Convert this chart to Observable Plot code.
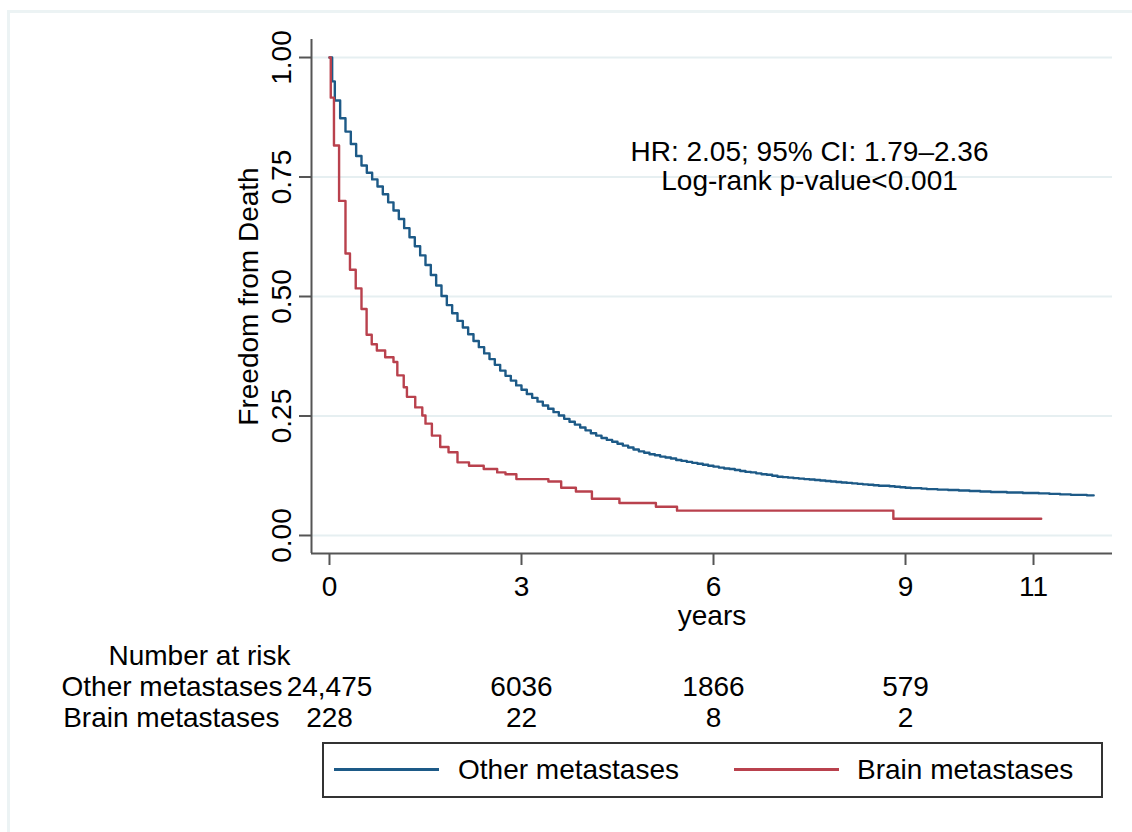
<!DOCTYPE html>
<html>
<head>
<meta charset="utf-8">
<script src="https://cdn.jsdelivr.net/npm/d3@7"></script>
<script src="https://cdn.jsdelivr.net/npm/@observablehq/plot@0.6"></script>
<style>
  html, body { margin: 0; padding: 0; background: #fff; }
  #page { position: relative; width: 1132px; height: 832px; overflow: hidden; background: #fff;
          font-family: "Liberation Sans", Arial, sans-serif; color: #000; }
  #frame { position: absolute; left: 7px; top: 10px; width: 1140px; height: 840px;
           border-top: 3px solid #ecf3f4; border-left: 3px solid #ecf3f4; box-sizing: border-box; }
  #main { position: absolute; left: 0; top: 0; }
  #risk { position: absolute; left: 0; top: 640px; }
  #legend { position: absolute; left: 322px; top: 742px; width: 781px; height: 56px;
            border: 2px solid #333; box-sizing: border-box; background: #fff; }
  #legend .sw { position: absolute; top: 24px; width: 105px; height: 0; border-top: 3px solid; }
  #legend .lb { position: absolute; top: 0; line-height: 52px; font-size: 28px; white-space: nowrap; }
</style>
</head>
<body>
<div id="page">
  <div id="frame"></div>
  <div id="main"></div>
  <div id="risk"></div>
  <div id="legend"></div>
</div>
<script>
// ---------------- data ----------------
const seriesNames = ["Other metastases", "Brain metastases"];
const seriesColors = ["#1d5a87", "#b9414d"];

// Other metastases: Kaplan–Meier survival read per month (months 0, 0.5, 1 … 143)
const otherMonths = [0, 0.5, ...d3.range(1, 144)];
const otherSurv = [
  1.000, 0.950,
  0.910, 0.873, 0.845, 0.819, 0.794, 0.774, 0.759, 0.745, 0.730, 0.714, 0.697, 0.680,
  0.662, 0.643, 0.624, 0.605, 0.586, 0.566, 0.545, 0.523, 0.501, 0.482, 0.465, 0.449,
  0.435, 0.421, 0.407, 0.394, 0.381, 0.369, 0.357, 0.345, 0.334, 0.324, 0.314, 0.305,
  0.296, 0.288, 0.280, 0.272, 0.265, 0.258, 0.251, 0.244, 0.238, 0.232, 0.226, 0.220,
  0.214, 0.209, 0.204, 0.200, 0.196, 0.192, 0.188, 0.184, 0.180, 0.176, 0.173, 0.170,
  0.168, 0.165, 0.163, 0.161, 0.158, 0.156, 0.154, 0.152, 0.150, 0.148, 0.146, 0.144,
  0.142, 0.140, 0.139, 0.137, 0.135, 0.133, 0.132, 0.130, 0.128, 0.127, 0.125, 0.123,
  0.122, 0.121, 0.120, 0.119, 0.118, 0.117, 0.116, 0.115, 0.114, 0.113, 0.112, 0.111,
  0.110, 0.109, 0.108, 0.107, 0.106, 0.105, 0.104, 0.104, 0.103, 0.102, 0.101, 0.100,
  0.099, 0.099, 0.098, 0.097, 0.097, 0.096, 0.096, 0.095, 0.095, 0.094, 0.094, 0.093,
  0.093, 0.092, 0.092, 0.091, 0.091, 0.091, 0.090, 0.090, 0.090, 0.089, 0.089, 0.089,
  0.088, 0.088, 0.087, 0.087, 0.086, 0.086, 0.085, 0.085, 0.085, 0.084, 0.084
];
const otherLastYear = 11.94;

// Brain metastases: step times (years) and survival
const brainTimes = [0, 0.02, 0.07, 0.15, 0.25, 0.32, 0.41, 0.50, 0.58, 0.66, 0.74, 0.87, 1.00,
  1.06, 1.16, 1.21, 1.34, 1.45, 1.50, 1.60, 1.73, 1.86, 2.00, 2.18, 2.41, 2.62, 2.75, 2.92,
  3.42, 3.62, 3.85, 4.10, 4.53, 5.10, 5.43, 8.81, 11.12];
const brainSurv = [1.000, 0.916, 0.816, 0.700, 0.590, 0.556, 0.517, 0.474, 0.420, 0.400, 0.387, 0.373, 0.363,
  0.335, 0.310, 0.290, 0.268, 0.251, 0.234, 0.209, 0.185, 0.174, 0.153, 0.146, 0.139, 0.132, 0.128, 0.118,
  0.113, 0.100, 0.092, 0.077, 0.068, 0.060, 0.052, 0.035, 0.035];

const xTicks = [0, 3, 6, 9, 11];
const yTicks = [0, 0.25, 0.5, 0.75, 1];
const xLabel = "years";
const yLabel = "Freedom from Death";
const annotation = ["HR: 2.05; 95% CI: 1.79–2.36", "Log-rank p-value<0.001"];

const riskTitle = "Number at risk";
const riskTimes = [0, 3, 6, 9];
const riskOther = ["24,475", "6036", "1866", "579"];
const riskBrain = ["228", "22", "8", "2"];

// ---------------- build ----------------
const FONT = '"Liberation Sans", Arial, sans-serif';
const FS = 28;
const AXIS = "#555";
const xDomain = [-0.281, 12.234];
const yDomain = [-0.0377, 1.0377];

const otherData = otherMonths.map((m, i) => ({t: m / 12, s: otherSurv[i]}));
otherData.push({t: otherLastYear, s: otherSurv[otherSurv.length - 1]});
const brainData = brainTimes.map((t, i) => ({t, s: brainSurv[i]}));

const main = Plot.plot({
  width: 1132, height: 640,
  marginLeft: 311, marginRight: 20, marginTop: 39, marginBottom: 87,
  style: {fontFamily: FONT, fontSize: FS + "px", color: "#000", background: "transparent", overflow: "visible"},
  x: {domain: xDomain},
  y: {domain: yDomain},
  marks: [
    Plot.ruleY(yTicks, {stroke: "#e6eff1", strokeWidth: 2}),
    Plot.line(otherData, {x: "t", y: "s", curve: "step-after", stroke: seriesColors[0], strokeWidth: 2.4}),
    Plot.line(brainData, {x: "t", y: "s", curve: "step-after", stroke: seriesColors[1], strokeWidth: 2.4}),
    Plot.ruleX([xDomain[0]], {stroke: AXIS, strokeWidth: 2}),
    Plot.ruleY([yDomain[0]], {stroke: AXIS, strokeWidth: 2}),
    Plot.axisX({ticks: xTicks, tickSize: 12, tickPadding: 11, fontSize: FS, stroke: AXIS, strokeWidth: 2, label: null}),
    Plot.axisY({ticks: yTicks, tickFormat: d3.format(".2f"), tickRotate: -90, textAnchor: "middle",
                lineAnchor: "bottom", tickSize: 12, tickPadding: 9, fontSize: FS, stroke: AXIS, strokeWidth: 2, label: null}),
    Plot.text([xLabel], {text: d => d, frameAnchor: "bottom", lineAnchor: "top", dy: 52, fontSize: FS}),
    Plot.text([yLabel], {text: d => d, frameAnchor: "left", textAnchor: "middle", rotate: -90, lineAnchor: "top", dx: -73, fontSize: FS}),
    Plot.text([annotation.join("\n")], {text: d => d, x: 7.5, y: 0.772, lineAnchor: "middle", lineHeight: 1.04, fontSize: FS})
  ]
});
document.getElementById("main").appendChild(main);

const rowNames = [riskTitle, ...seriesNames];
const riskData = [
  ...riskTimes.map((t, i) => ({t, row: seriesNames[0], n: riskOther[i]})),
  ...riskTimes.map((t, i) => ({t, row: seriesNames[1], n: riskBrain[i]}))
];
const risk = Plot.plot({
  width: 1132, height: 100,
  marginLeft: 311, marginRight: 20, marginTop: 15, marginBottom: 22,
  style: {fontFamily: FONT, fontSize: FS + "px", color: "#000", background: "transparent", overflow: "visible"},
  x: {domain: xDomain, axis: null},
  y: {type: "point", domain: rowNames, padding: 0, axis: null},
  marks: [
    Plot.text(riskData, {x: "t", y: "row", text: "n", fontSize: FS}),
    Plot.text([rowNames[0]], {y: d => d, text: d => d, frameAnchor: "left", textAnchor: "end", dx: -21, fontSize: FS}),
    Plot.text([rowNames[1]], {y: d => d, text: d => d, frameAnchor: "left", textAnchor: "end", dx: -29, fontSize: FS}),
    Plot.text([rowNames[2]], {y: d => d, text: d => d, frameAnchor: "left", textAnchor: "end", dx: -32, fontSize: FS})
  ]
});
document.getElementById("risk").appendChild(risk);

// legend
const legend = document.getElementById("legend");
const swLeft = [10, 410], lbLeft = [134, 533];
seriesNames.forEach((name, i) => {
  const sw = document.createElement("div");
  sw.className = "sw"; sw.style.left = swLeft[i] + "px"; sw.style.borderTopColor = seriesColors[i];
  legend.appendChild(sw);
  const lb = document.createElement("div");
  lb.className = "lb"; lb.style.left = lbLeft[i] + "px"; lb.textContent = name;
  legend.appendChild(lb);
});
</script>
</body>
</html>
